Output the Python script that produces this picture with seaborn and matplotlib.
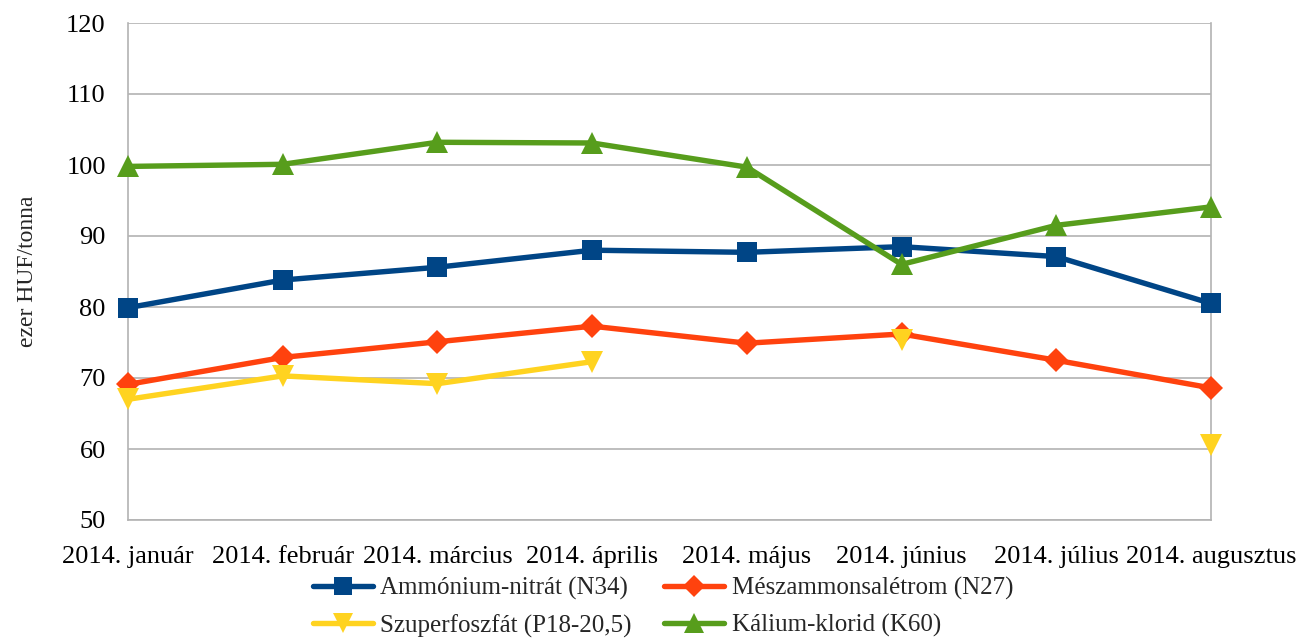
import matplotlib
matplotlib.use("Agg")
import matplotlib.pyplot as plt
import seaborn as sns
import numpy as np
import pandas as pd
from matplotlib.lines import Line2D

#------Data------

MONTHS = ["2014. január", "2014. február", "2014. március", "2014. április",
          "2014. május", "2014. június", "2014. július", "2014. augusztus"]

AMMONIUM = [79.9, 83.8, 85.6, 88.0, 87.7, 88.5, 87.1, 80.5]
MESZAMMON = [69.1, 72.9, 75.1, 77.3, 74.9, 76.2, 72.5, 68.6]
SZUPERFOSZFAT = [67.0, 70.3, 69.2, 72.3, None, 75.4, None, 60.6]
KALIUM = [99.8, 100.1, 103.2, 103.1, 99.7, 86.0, 91.5, 94.1]

SERIES_NAMES = ["Ammónium-nitrát (N34)", "Mészammonsalétrom (N27)",
                "Szuperfoszfát (P18-20,5)", "Kálium-klorid (K60)"]

#------Style------

COLORS = ["#004586", "#ff420e", "#ffd320", "#579d1c"]
MARKERS = ["s", "D", "v", "^"]
MSIZES = [15, 12, 16, 16]
GRID = "#b3b3b3"

sns.set_theme(style="white")
plt.rcParams["font.family"] = ["Liberation Serif", "DejaVu Serif"]

fig = plt.figure(figsize=(12.97, 6.38), dpi=100)
ax = fig.add_axes([128 / 1297, 1 - 520 / 638, (1211 - 128) / 1297, (520 - 23) / 638])

all_values = [AMMONIUM, MESZAMMON, SZUPERFOSZFAT, KALIUM]

# draw every contiguous run of a series as its own line, so gaps stay open
for name, vals, color, marker, ms in zip(SERIES_NAMES, all_values, COLORS, MARKERS, MSIZES):
    df = pd.DataFrame({"x": np.arange(len(MONTHS)), "y": pd.array(vals, dtype="Float64").astype(float)})
    df["seg"] = df["y"].isna().cumsum()
    df = df.dropna()
    for _, part in df.groupby("seg"):
        sns.lineplot(data=part, x="x", y="y", ax=ax, color=color, linewidth=3.9,
                     marker=marker, markersize=ms, markeredgewidth=0,
                     estimator=None, sort=False, clip_on=False, zorder=3)

ax.set_xlim(0, len(MONTHS) - 1)
ax.set_ylim(50, 120)
ax.set_yticks(range(50, 121, 10))
ax.set_xticks(range(len(MONTHS)))
ax.set_xticklabels(MONTHS)
ax.yaxis.grid(True, color=GRID, linewidth=1.2)
ax.xaxis.grid(False)
ax.set_xlabel("")
ax.set_ylabel("ezer HUF/tonna", fontsize=17, labelpad=20)

for side, spine in ax.spines.items():
    spine.set_color(GRID)
    spine.set_linewidth(1.2)
ax.spines["top"].set_visible(False)

ax.tick_params(axis="both", colors=GRID, length=10, width=1.2, labelsize=19,
               labelcolor="black", direction="out")
ax.tick_params(axis="y", pad=6)
ax.tick_params(axis="x", pad=9)

#------Legend------

handles = [Line2D([0], [0], color=c, linewidth=3.9, marker=m, markersize=ms * 0.9, markeredgewidth=0)
           for c, m, ms in zip(COLORS, MARKERS, MSIZES)]
order = [0, 2, 1, 3]
fig.legend([handles[i] for i in order], [SERIES_NAMES[i] for i in order],
           loc="center", bbox_to_anchor=(0.511, 0.048), ncol=2, frameon=False,
           fontsize=18, handlelength=2.4, handletextpad=0.3, columnspacing=1.3,
           labelspacing=0.55)

fig.savefig("out.png", dpi=100)
plt.close(fig)
